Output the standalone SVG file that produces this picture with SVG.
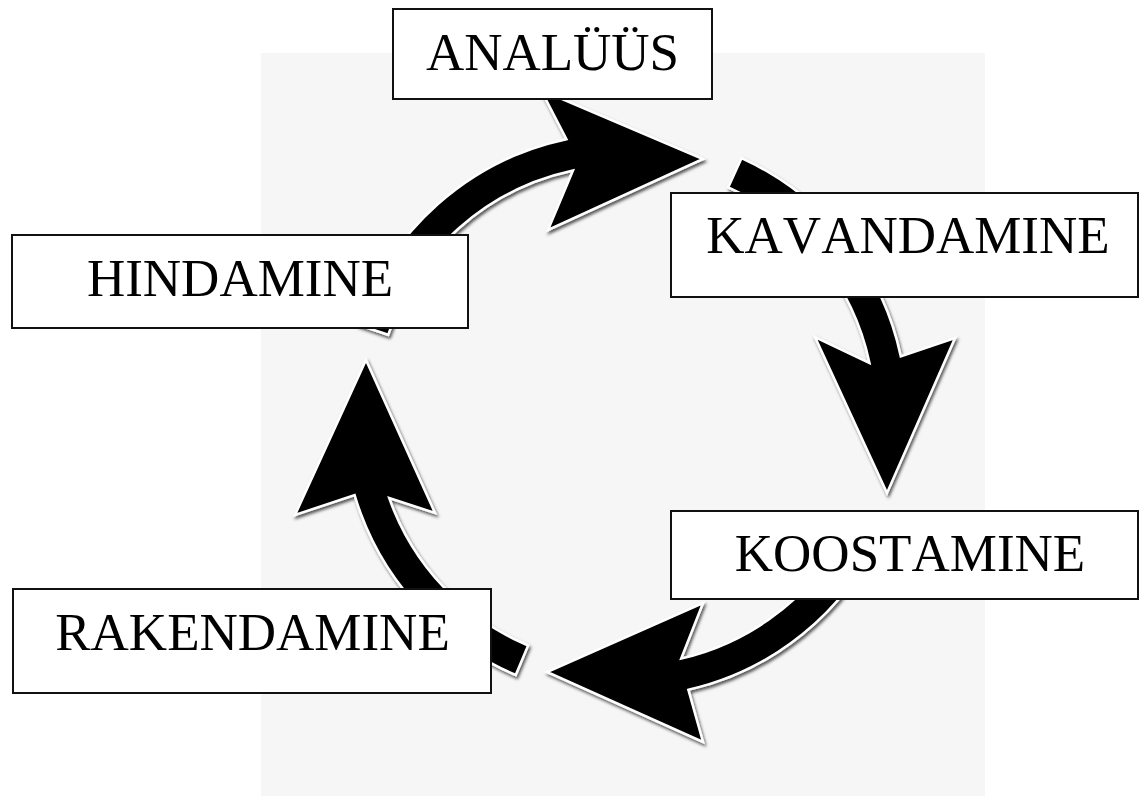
<svg xmlns="http://www.w3.org/2000/svg" width="1139" height="796" viewBox="0 0 1139 796">
  <defs>
    <filter id="shadow" x="-20%" y="-20%" width="140%" height="140%">
      <feDropShadow dx="1.5" dy="2.5" stdDeviation="1.8" flood-color="#000" flood-opacity="0.65"/>
    </filter>
  </defs>
  <style>
    .arrow { fill: #000; stroke: #fff; stroke-width: 2.5; stroke-linejoin: miter; filter: url(#shadow); }
    .box { fill: #fff; stroke: #111; stroke-width: 2; }
    .label { font-family: "Liberation Serif", "Times New Roman", serif; font-size: 53px; fill: #000; text-anchor: middle; font-kerning: none; }
  </style>
  <rect x="261" y="53" width="724" height="743" fill="#f6f6f6"/>
  <g id="connectors">
    <path class="arrow" d="M566.4,139.2 A282,282 0 0 0 357.9,324.6 L388.2,334.8 A250,250 0 0 1 573,170.5 L548,230 L703,159 L541,90 Z"/>
    <path class="arrow" d="M900.8,356.4 A282,282 0 0 0 741.5,158.2 L728.3,187.3 A250,250 0 0 1 869.5,363 L815,337 L887,493 L955,338 Z"/>
    <path class="arrow" d="M688.4,689.8 A282,282 0 0 0 880.6,534.2 L851.6,520.7 A250,250 0 0 1 681.2,658.6 L703,603 L547,672 L703,742 Z"/>
    <path class="arrow" d="M354.6,495.1 A282,282 0 0 0 515.7,675 L528.1,645.5 A250,250 0 0 1 389.2,498 L435,513 L366,360 L295,515 Z"/>
  </g>
  <g id="analuus">
    <rect class="box" x="393" y="9" width="319" height="90"/>
    <text class="label" x="552.5" y="70">ANALÜÜS</text>
  </g>
  <g id="kavandamine">
    <rect class="box" x="671" y="193" width="467" height="104"/>
    <text class="label" x="908" y="253">KAVANDAMINE</text>
  </g>
  <g id="koostamine">
    <rect class="box" x="671" y="511" width="467" height="88"/>
    <text class="label" x="910" y="571">KOOSTAMINE</text>
  </g>
  <g id="rakendamine">
    <rect class="box" x="13" y="589" width="478" height="104"/>
    <text class="label" x="252.5" y="650">RAKENDAMINE</text>
  </g>
  <g id="hindamine">
    <rect class="box" x="12" y="235" width="456" height="93"/>
    <text class="label" x="240" y="296">HINDAMINE</text>
  </g>
</svg>
